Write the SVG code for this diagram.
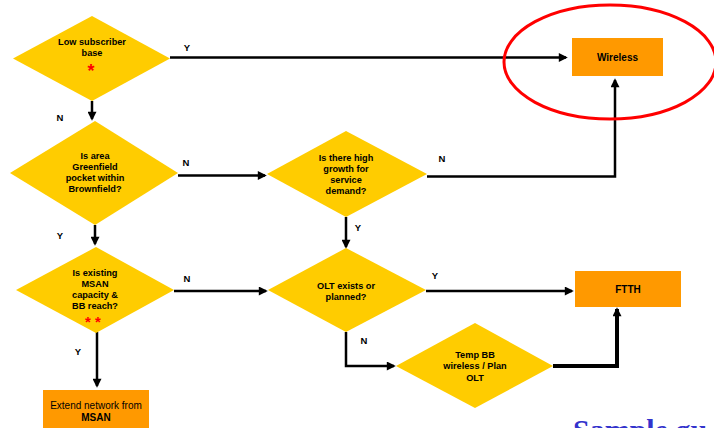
<svg xmlns="http://www.w3.org/2000/svg" width="714" height="428" viewBox="0 0 714 428">
<defs>
<marker id="ah" viewBox="0 0 10 10" refX="8" refY="5" markerWidth="10" markerHeight="9" markerUnits="userSpaceOnUse" orient="auto">
<path d="M0,0 L10,5 L0,10 z" fill="#000"/>
</marker>
</defs>
<style>
.dia{fill:#FFCC00;}
.box{fill:#FF9900;}
.t{font-family:"Liberation Sans",Arial,sans-serif;font-size:9.2px;font-weight:bold;fill:#000;text-anchor:middle;}
.bt{font-family:"Liberation Sans",Arial,sans-serif;font-size:10px;font-weight:bold;fill:#000;text-anchor:middle;}
.nt{font-family:"Liberation Sans",Arial,sans-serif;font-size:10px;fill:#000;text-anchor:middle;}
.lbl{font-family:"Liberation Sans",Arial,sans-serif;font-size:9.5px;font-weight:bold;fill:#000;text-anchor:middle;}
.star{font-family:"Liberation Sans",Arial,sans-serif;font-size:18px;font-weight:bold;fill:#FF0000;text-anchor:middle;}
.c{fill:none;stroke:#000;stroke-width:2.5;}
.ca{fill:none;stroke:#000;stroke-width:2.5;marker-end:url(#ah);}
</style>
<rect width="714" height="428" fill="#fff"/>

<g id="connectors">
<path class="ca" d="M170,57.5 H566"/>
<path class="ca" d="M92,101 V119"/>
<path class="ca" d="M178,175.5 H265"/>
<path class="ca" d="M427,176.5 H615 V80"/>
<path class="ca" d="M346,217 V247"/>
<path class="ca" d="M95,225 V244"/>
<path class="ca" d="M174,291 H266"/>
<path class="ca" d="M426,291 H572"/>
<path class="ca" d="M346,332 V366 H394"/>
<path class="ca" d="M553,366 H617 V309" style="stroke-width:4"/>
<path class="ca" d="M97,332 V386"/>
<text class="lbl" x="187" y="51">Y</text>
<text class="lbl" x="60" y="121">N</text>
<text class="lbl" x="186" y="166">N</text>
<text class="lbl" x="442" y="162">N</text>
<text class="lbl" x="358" y="231">Y</text>
<text class="lbl" x="60" y="239">Y</text>
<text class="lbl" x="187" y="282">N</text>
<text class="lbl" x="435" y="279">Y</text>
<text class="lbl" x="364" y="344">N</text>
<text class="lbl" x="78" y="355">Y</text>
</g>

<g id="low-subscriber">
<polygon class="dia" points="13,58.5 92,16 170,58.5 92,101"/>
<text class="t" x="92" y="44.5">Low subscriber</text>
<text class="t" x="92" y="55.5">base</text>
<text class="star" x="91" y="77">*</text>
</g>

<g id="greenfield">
<polygon class="dia" points="10,173 95,121 178,173 95,225"/>
<text class="t" x="95" y="158.5">Is area</text>
<text class="t" x="95" y="169.5">Greenfield</text>
<text class="t" x="95" y="180.5">pocket within</text>
<text class="t" x="95" y="191.5">Brownfield?</text>
</g>

<g id="high-growth">
<polygon class="dia" points="267,174 346,131 427,174 346,217"/>
<text class="t" x="346" y="161">Is there high</text>
<text class="t" x="346" y="172">growth for</text>
<text class="t" x="346" y="183">service</text>
<text class="t" x="346" y="194">demand?</text>
</g>

<g id="msan-capacity">
<polygon class="dia" points="16,290 96,247 174,290 96,333"/>
<text class="t" x="95" y="275.5">Is existing</text>
<text class="t" x="95" y="286.5">MSAN</text>
<text class="t" x="95" y="297.5">capacity &amp;</text>
<text class="t" x="95" y="308.5">BB reach?</text>
<text class="star" x="88" y="327" style="font-size:15px">*</text>
<text class="star" x="98" y="327" style="font-size:15px">*</text>
</g>

<g id="olt-exists">
<polygon class="dia" points="268,290 346,248 426,290 346,332"/>
<text class="t" x="346" y="288.5">OLT exists or</text>
<text class="t" x="346" y="299.5">planned?</text>
</g>

<g id="temp-bb">
<polygon class="dia" points="396,366 475,323 553,366 475,408"/>
<text class="t" x="475" y="357.5">Temp BB</text>
<text class="t" x="475" y="369">wireless / Plan</text>
<text class="t" x="475" y="380.5">OLT</text>
</g>

<g id="wireless">
<rect class="box" x="572" y="38" width="91" height="38"/>
<text class="bt" x="617.5" y="60.5">Wireless</text>
</g>

<g id="ftth">
<rect class="box" x="575" y="271" width="106" height="36"/>
<text class="bt" x="628" y="292.5">FTTH</text>
</g>

<g id="extend-msan">
<rect class="box" x="43" y="390" width="106" height="45"/>
<text class="nt" x="96" y="408.5">Extend network from</text>
<text class="bt" x="96" y="420.5">MSAN</text>
</g>

<g id="highlight">
<ellipse cx="610" cy="62" rx="106" ry="57" fill="none" stroke="#FF0000" stroke-width="3"/>
</g>

<text x="573" y="440" style="font-family:'Liberation Serif','Times New Roman',serif;font-size:30px;font-weight:bold;fill:#3333CC;">Sample gu</text>
</svg>
